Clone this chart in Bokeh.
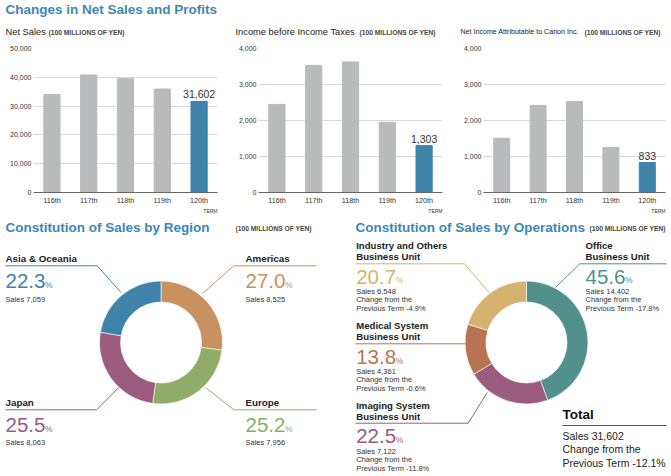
import math
from bokeh.plotting import figure
from bokeh.models import Range1d, FactorRange, NumeralTickFormatter, FixedTicker
from bokeh.layouts import column, row
from bokeh.embed import file_html
from bokeh.resources import INLINE
from bokeh.core.properties import value

# ---------------- data ----------------
terms = ["116th", "117th", "118th", "119th", "120th"]
net_sales = [34015, 40800, 39519, 35932, 31602]
income_before_taxes = [2447, 3531, 3628, 1951, 1303]
net_income = [1507, 2419, 2527, 1252, 833]

regions = ["Americas", "Europe", "Japan", "Asia & Oceania"]
region_sales = [8525, 7956, 8063, 7059]
region_share = [27.0, 25.2, 25.5, 22.3]

operations = ["Office", "Imaging System", "Medical System", "Industry and Others"]
operation_sales = [14402, 7122, 4361, 6548]
operation_share = [45.6, 22.5, 13.8, 20.7]
operation_change = [-17.8, -11.8, -0.6, -4.9]

total_sales = 31602
total_change = -12.1

# ---------------- style ----------------
SANS = "Liberation Sans"
TITLE_BLUE = "#3c87b4"
DARK = "#333333"
GRAY_BAR = "#b9babc"
BLUE_BAR = "#3f82aa"
region_colors = ["#c8915f", "#8fad68", "#9b5c7d", "#3f82aa"]
operation_colors = ["#52918b", "#9b5c7d", "#b87452", "#d5b36e"]

W = 671
HEAD_H = 45
BAR_H = 162
BOT_TOP = HEAD_H + BAR_H          # page y where the bottom canvas starts
BOT_H = 476 - BOT_TOP


def make_canvas(h):
    p = figure(width=W, height=h, x_range=Range1d(0, W), y_range=Range1d(0, h),
               output_backend="svg", toolbar_location=None, title=None,
               x_axis_type=None, y_axis_type=None, min_border=0)
    p.outline_line_color = None
    p.xgrid.visible = False
    p.ygrid.visible = False
    return p


def txt(p, top, x, y, s, size, color=DARK, style="normal",
        align="left", baseline="middle"):
    # x, y are page pixel positions; top = page y of the canvas bottom edge
    p.text(x=[x], y=[top - y], text=[s], text_font=value(SANS),
           text_font_size=f"{size}px", text_font_style=style, text_color=color,
           text_align=align, text_baseline=baseline)


def poly(p, top, pts, color, width=1.0):
    p.line(x=[a for a, b in pts], y=[top - b for a, b in pts],
           line_color=color, line_width=width)


# ---------------- header ----------------
head = make_canvas(HEAD_H)
txt(head, HEAD_H, 5, 9.2, "Changes in Net Sales and Profits", 13.5, TITLE_BLUE, "bold")
subtitles = [("Net Sales", 5, 48, 9.3), ("Income before Income Taxes", 235, 359, 9.3),
             ("Net Income Attributable to Canon Inc.", 460, 584, 7.1)]
for s, x0, xb, fs in subtitles:
    txt(head, HEAD_H, x0, 31.5, s, fs, "#222222")
    txt(head, HEAD_H, xb, 32, "(100 MILLIONS OF YEN)", 6.7, "#444444", "bold")


# ---------------- bar charts ----------------
def bar_fig(vals, ymax, step, width, left, right):
    p = figure(x_range=FactorRange(*terms), y_range=Range1d(0, ymax), title=None,
               width=width, height=BAR_H, output_backend="svg", toolbar_location=None,
               min_border_left=left, min_border_right=right,
               min_border_top=3, min_border_bottom=14)
    p.outline_line_color = None
    colors = [GRAY_BAR] * (len(terms) - 1) + [BLUE_BAR]
    p.vbar(x=terms, top=vals, width=0.44, color=colors)
    p.text(x=[terms[-1]], y=[vals[-1]], text=[f"{vals[-1]:,}"], y_offset=-3,
           text_align="center", text_baseline="bottom", text_font=value(SANS),
           text_font_size="10.5px", text_color=DARK)
    p.xgrid.visible = False
    p.ygrid.grid_line_color = "#d9d9d9"
    p.yaxis.ticker = FixedTicker(ticks=list(range(0, ymax + 1, step)))
    p.yaxis.formatter = NumeralTickFormatter(format="0,0")
    for ax in (p.xaxis, p.yaxis):
        ax.major_tick_line_color = None
        ax.minor_tick_line_color = None
        ax.major_tick_out = 0
        ax.major_tick_in = 0
        ax.minor_tick_out = 0
        ax.minor_tick_in = 0
        ax.major_label_text_font = SANS
        ax.major_label_text_color = DARK
    p.yaxis.axis_line_color = None
    p.yaxis.major_label_standoff = 2
    p.yaxis.major_label_text_font_size = "7px"
    p.xaxis.axis_line_color = "#666666"
    p.xaxis.major_label_standoff = 3
    p.xaxis.major_label_text_font_size = "7.2px"
    return p


bar_specs = [  # (values, ymax, step, fig width, left border, right border)
    (net_sales, 50000, 10000, 223, 33, 6),
    (income_before_taxes, 4000, 1000, 225, 35, 6),
    (net_income, 4000, 1000, 223, 35, 6),
]
bars = []
frame_right_edges = []
x_start = 0
for vals, ymax, step, w, l, r in bar_specs:
    bars.append(bar_fig(vals, ymax, step, w, l, r))
    frame_right_edges.append(x_start + w - r)
    x_start += w

# ---------------- bottom: donuts ----------------
TOP = 476
bot = make_canvas(BOT_H)

for xr in frame_right_edges:
    txt(bot, TOP, xr, 210, "TERM", 5, DARK, align="right")

txt(bot, TOP, 5, 226.7, "Constitution of Sales by Region", 13.5, TITLE_BLUE, "bold")
txt(bot, TOP, 235, 228, "(100 MILLIONS OF YEN)", 6.7, "#444444", "bold")
txt(bot, TOP, 355, 226.7, "Constitution of Sales by Operations", 13.5, TITLE_BLUE, "bold")
txt(bot, TOP, 589, 228, "(100 MILLIONS OF YEN)", 6.7, "#444444", "bold")


def ring(p, cx, cy, vals, colors):
    total = sum(vals)
    cum = 0
    starts, ends = [], []
    for v in vals:
        starts.append(math.pi / 2 - 2 * math.pi * cum / total)
        cum += v
        ends.append(math.pi / 2 - 2 * math.pi * cum / total)
    n = len(vals)
    p.annular_wedge(x=[cx] * n, y=[TOP - cy] * n,
                    inner_radius=40.5, outer_radius=61.5,
                    inner_radius_units="screen", outer_radius_units="screen",
                    start_angle=starts, end_angle=ends, direction="clock",
                    fill_color=colors, line_color="white", line_width=0.6)


ring(bot, 160.5, 342, region_sales, region_colors)
ring(bot, 526, 342, operation_sales, operation_colors)

# region label layout: name x, name y, pct centre y, sales y, leader points
region_layout = {
    "Americas": (245, 257.5, 280.5, 299.3, [(316, 265.3), (233.3, 265.3), (202, 293)]),
    "Europe": (245, 402, 424.2, 441.7, [(316, 409.3), (233.3, 409.3), (205, 387)]),
    "Japan": (5, 402, 424.2, 441.7, [(5, 409.3), (96, 409.3), (118.3, 387)]),
    "Asia & Oceania": (5, 257.5, 280.5, 299.3, [(5, 265.3), (96.7, 265.3), (120.5, 292)]),
}
for name, sales, share, col in zip(regions, region_sales, region_share, region_colors):
    x0, yn, yp, ys, pts = region_layout[name]
    poly(bot, TOP, pts, col, 1)
    txt(bot, TOP, x0, yn, name, 9.8, "#222222", "bold")
    txt(bot, TOP, x0, yp, f"{share:.1f}", 20.5, col)
    txt(bot, TOP, x0 + 39.5, yp + 3.8, "%", 8.5, col)
    txt(bot, TOP, x0, ys, f"Sales {sales:,}", 7.5, DARK)

op_layout = {
    "Office": (585, 245, 276, 290.7, [(666, 263.3), (579.3, 263.3), (555, 287)]),
    "Imaging System": (355.7, 405, 435.3, 450.7, [(355, 422.7), (467.7, 422.7), (486.7, 392)]),
    "Medical System": (355.7, 325, 356.3, 370.7, [(355, 343.3), (465, 343.3)]),
    "Industry and Others": (355.7, 245, 276, 290.7, [(355, 263.3), (464, 263.3), (488.3, 291.7)]),
}
for name, sales, share, chg, col in zip(operations, operation_sales, operation_share,
                                        operation_change, operation_colors):
    x0, yn, yp, ys, pts = op_layout[name]
    poly(bot, TOP, pts, col, 1)
    txt(bot, TOP, x0, yn, name, 9.6, "#222222", "bold")
    txt(bot, TOP, x0, yn + 11, "Business Unit", 9.6, "#222222", "bold")
    txt(bot, TOP, x0, yp, f"{share:.1f}", 20.5, col)
    txt(bot, TOP, x0 + 39.5, yp + 3.8, "%", 8.5, col)
    txt(bot, TOP, x0, ys, f"Sales {sales:,}", 7.5, DARK)
    txt(bot, TOP, x0, ys + 8.7, "Change from the", 7.5, DARK)
    txt(bot, TOP, x0, ys + 17.5, f"Previous Term {chg}%", 7.5, DARK)

# total block
txt(bot, TOP, 562, 413.7, "Total", 13.5, "#111111", "bold")
poly(bot, TOP, [(562, 425), (666, 425)], "#555555", 1)
txt(bot, TOP, 562, 435, f"Sales {total_sales:,}", 10.5, "#222222")
txt(bot, TOP, 562, 448.5, "Change from the", 10.5, "#222222")
txt(bot, TOP, 562, 462, f"Previous Term {total_change}%", 10.5, "#222222")

layout = column(head, row(*bars), bot)
open("out.html", "w").write(file_html(layout, INLINE))
